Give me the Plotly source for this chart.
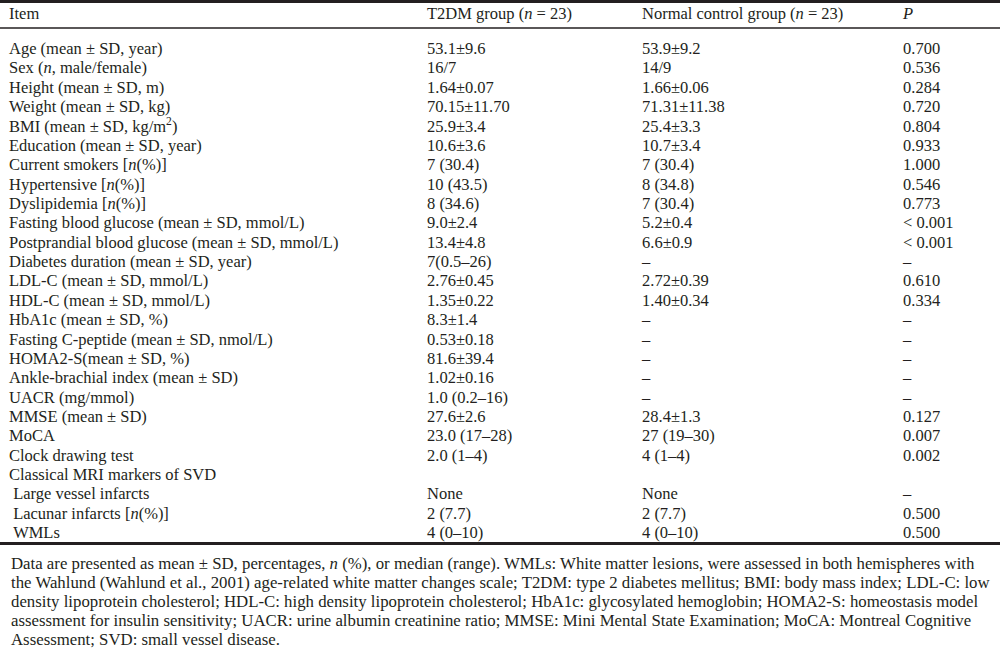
import plotly.graph_objects as go

headers = ["Item", "T2DM group (<i>n</i> = 23)", "Normal control group (<i>n</i> = 23)", "<i>P</i>"]

items = [
    "Age (mean ± SD, year)",
    "Sex (<i>n</i>, male/female)",
    "Height (mean ± SD, m)",
    "Weight (mean ± SD, kg)",
    "BMI (mean ± SD, kg/m<sup>2</sup>)",
    "Education (mean ± SD, year)",
    "Current smokers [<i>n</i>(%)]",
    "Hypertensive [<i>n</i>(%)]",
    "Dyslipidemia [<i>n</i>(%)]",
    "Fasting blood glucose (mean ± SD, mmol/L)",
    "Postprandial blood glucose (mean ± SD, mmol/L)",
    "Diabetes duration (mean ± SD, year)",
    "LDL-C (mean ± SD, mmol/L)",
    "HDL-C (mean ± SD, mmol/L)",
    "HbA1c (mean ± SD, %)",
    "Fasting C-peptide (mean ± SD, nmol/L)",
    "HOMA2-S(mean ± SD, %)",
    "Ankle-brachial index (mean ± SD)",
    "UACR (mg/mmol)",
    "MMSE (mean ± SD)",
    "MoCA",
    "Clock drawing test",
    "Classical MRI markers of SVD",
    "  Large vessel infarcts",
    "  Lacunar infarcts [<i>n</i>(%)]",
    "  WMLs",
]

t2dm = [
    "53.1±9.6", "16/7", "1.64±0.07", "70.15±11.70", "25.9±3.4", "10.6±3.6",
    "7 (30.4)", "10 (43.5)", "8 (34.6)", "9.0±2.4", "13.4±4.8", "7(0.5–26)",
    "2.76±0.45", "1.35±0.22", "8.3±1.4", "0.53±0.18", "81.6±39.4", "1.02±0.16",
    "1.0 (0.2–16)", "27.6±2.6", "23.0 (17–28)", "2.0 (1–4)", "", "None",
    "2 (7.7)", "4 (0–10)",
]

control = [
    "53.9±9.2", "14/9", "1.66±0.06", "71.31±11.38", "25.4±3.3", "10.7±3.4",
    "7 (30.4)", "8 (34.8)", "7 (30.4)", "5.2±0.4", "6.6±0.9", "–",
    "2.72±0.39", "1.40±0.34", "–", "–", "–", "–",
    "–", "28.4±1.3", "27 (19–30)", "4 (1–4)", "", "None",
    "2 (7.7)", "4 (0–10)",
]

p_values = [
    "0.700", "0.536", "0.284", "0.720", "0.804", "0.933",
    "1.000", "0.546", "0.773", "< 0.001", "< 0.001", "–",
    "0.610", "0.334", "–", "–", "–", "–",
    "–", "0.127", "0.007", "0.002", "", "–",
    "0.500", "0.500",
]

footnote_lines = [
    "Data are presented as mean ± SD, percentages, <i>n</i> (%), or median (range). WMLs: White matter lesions, were assessed in both hemispheres with",
    "the Wahlund (Wahlund et al., 2001) age-related white matter changes scale; T2DM: type 2 diabetes mellitus; BMI: body mass index; LDL-C: low",
    "density lipoprotein cholesterol; HDL-C: high density lipoprotein cholesterol; HbA1c: glycosylated hemoglobin; HOMA2-S: homeostasis model",
    "assessment for insulin sensitivity; UACR: urine albumin creatinine ratio; MMSE: Mini Mental State Examination; MoCA: Montreal Cognitive",
    "Assessment; SVD: small vessel disease.",
]

# ---- layout constants ----
W, H = 1000, 649
FONT = "Liberation Serif"
FS = 16.5
FS_NOTE = 16.8
COLOR = "#231f20"
col_x = [9, 427, 642, 903]
row0_px = 50.0
row_h = 19.36
header_px = 15.0

def px_to_row(p):
    return (p - row0_px) / row_h

fig = go.Figure()
columns = [items, t2dm, control, p_values]
n = len(items)
rows = list(range(n))
for ci, col in enumerate(columns):
    texts = [("&nbsp;" + t.strip()) if t.startswith("  ") else t for t in col]
    fig.add_trace(go.Scatter(
        x=[col_x[ci]] * n, y=rows, mode="text", text=texts,
        textposition="middle right",
        textfont=dict(family=FONT, size=FS, color=COLOR),
        hoverinfo="skip", showlegend=False, cliponaxis=False,
    ))
# header
fig.add_trace(go.Scatter(
    x=col_x, y=[px_to_row(header_px)] * 4, mode="text", text=headers,
    textposition="middle right",
    textfont=dict(family=FONT, size=FS, color=COLOR),
    hoverinfo="skip", showlegend=False, cliponaxis=False,
))

# rules
for p, wdt in [(1.5, 3), (28, 1.3), (543.5, 3)]:
    fig.add_shape(type="line", xref="paper", x0=0, x1=1, yref="y",
                  y0=px_to_row(p), y1=px_to_row(p),
                  line=dict(color=COLOR, width=wdt))

# footnote
for i, line in enumerate(footnote_lines):
    fig.add_annotation(x=col_x[0], y=px_to_row(563 + 19.1 * i), xref="x", yref="y",
                       text=line, showarrow=False, xanchor="left", yanchor="middle",
                       font=dict(family=FONT, size=FS_NOTE, color=COLOR))

fig.update_layout(
    width=W, height=H, margin=dict(l=0, r=0, t=0, b=0),
    paper_bgcolor="white", plot_bgcolor="white",
    xaxis=dict(range=[0, W], visible=False, fixedrange=True),
    yaxis=dict(range=[px_to_row(H), px_to_row(0)], visible=False, fixedrange=True),
)
fig.write_html("out.html", config={"displayModeBar": False},
               post_script="document.body.style.margin='0';document.body.style.overflow='hidden';")
